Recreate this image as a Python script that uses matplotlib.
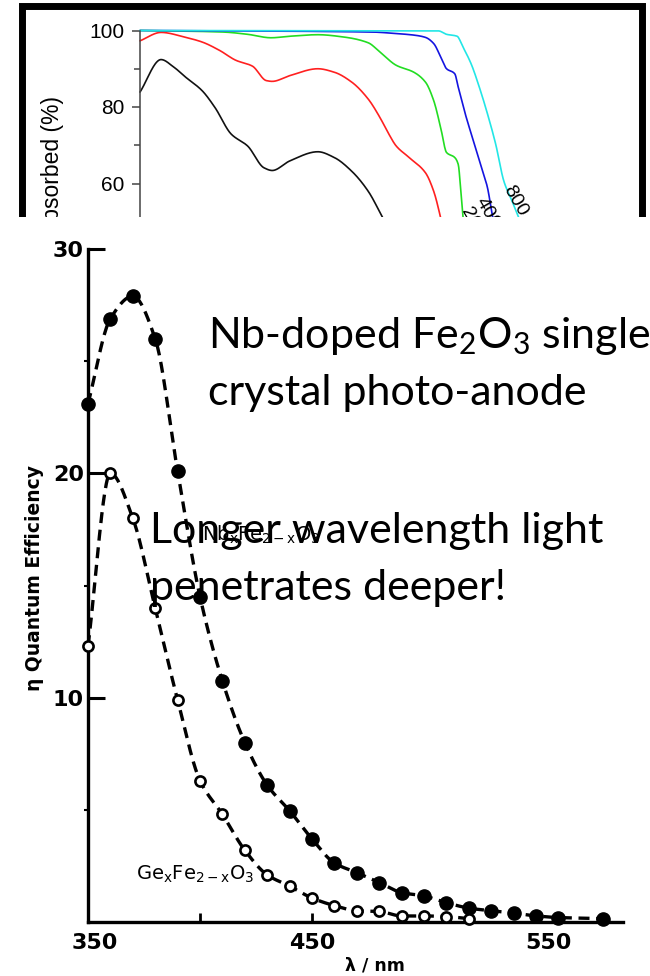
import numpy as np
import matplotlib
matplotlib.use("Agg")
import matplotlib.pyplot as plt
from matplotlib.patches import Rectangle
from matplotlib.transforms import ScaledTranslation

W, H = 650, 976

# ---------------- upper panel: fraction of light absorbed ----------------
black_wl = [300, 318, 329, 339, 353, 364, 378, 392, 406, 413, 428, 452, 466, 481, 495, 509, 520]
black_ab = [83.9, 92.4, 90.4, 87.8, 84.3, 79.9, 72.9, 69.8, 64.1, 63.4, 65.9, 68.3, 66.8, 63.2, 58.0, 50.1, 44.0]

red_wl = [300, 318, 339, 353, 368, 382, 396, 408, 413, 428, 452, 466, 481, 495, 505, 512, 519, 530, 544, 551, 557, 562]
red_ab = [97.3, 99.5, 98.2, 97.0, 94.8, 92.2, 90.7, 86.9, 86.7, 88.2, 90.0, 89.1, 86.5, 82.1, 77.3, 73.3, 69.8, 66.8, 62.8, 58.0, 51.0, 44.0]

green_wl = [300, 371, 392, 412, 428, 452, 474, 495, 505, 519, 534, 544, 551, 557, 562, 569, 572, 574, 576, 578]
green_ab = [100, 99.6, 99.0, 98.1, 98.5, 98.9, 98.3, 96.8, 94.4, 90.9, 89.1, 86.5, 81.7, 74.6, 68.1, 66.8, 65.0, 58.9, 51.8, 44.0]

blue_wl = [300, 498, 519, 534, 544, 551, 557, 562, 569, 572, 578, 585, 592, 597, 601, 605]
blue_ab = [100, 99.6, 99.2, 98.8, 98.2, 96.6, 93.1, 90.0, 88.7, 85.2, 78.2, 71.1, 64.1, 58.9, 51.8, 45.0]

cyan_wl = [300, 555, 562, 571, 576, 583, 590, 597, 604, 611, 618, 625, 632]
cyan_ab = [100, 99.9, 99.0, 98.5, 95.7, 91.3, 85.2, 78.2, 70.3, 60.6, 55.4, 50.0, 45.0]

top_yticks = [60, 80, 100]
top_yminor = [70, 90]
thickness_labels = ["800", "400", "200"]
thickness_pos = [(620.5, 55.4), (597.4, 52.3), (585.0, 49.6)]

# ---------------- lower panel: quantum efficiency ----------------
nb_wl = [350, 360, 370, 380, 390, 400, 410, 420, 430, 440, 450, 460, 470, 480,
         490, 500, 510, 520, 530, 540, 550, 560, 580]
nb_eta = [23.1, 26.9, 27.9, 26.0, 20.1, 14.5, 10.75, 8.0, 6.1, 4.96, 3.7, 2.63, 2.2, 1.76,
          1.31, 1.16, 0.86, 0.62, 0.5, 0.4, 0.27, 0.2, 0.15]

ge_wl = [350, 360, 370, 380, 390, 400, 410, 420, 430, 440, 450, 460, 470, 480, 490, 500, 510, 520]
ge_eta = [12.3, 20.0, 18.0, 14.0, 9.9, 6.3, 4.8, 3.2, 2.1, 1.6, 1.07, 0.73, 0.5, 0.47, 0.27, 0.27, 0.24, 0.15]

qe_xticks = [350, 450, 550]
qe_xminor = [400, 500]
qe_yticks = [10, 20, 30]
qe_yminor = [5, 15, 25]


def pchip(x, y, xs):
    """Monotone cubic (Fritsch-Carlson) curve through the given points."""
    x = np.asarray(x, float)
    y = np.asarray(y, float)
    h = np.diff(x)
    d = np.diff(y) / h
    m = np.zeros_like(y)
    for k in range(1, len(x) - 1):
        if d[k - 1] * d[k] > 0:
            w1 = 2 * h[k] + h[k - 1]
            w2 = h[k] + 2 * h[k - 1]
            m[k] = (w1 + w2) / (w1 / d[k - 1] + w2 / d[k])
    m[0] = d[0]
    m[-1] = d[-1]
    idx = np.clip(np.searchsorted(x, xs) - 1, 0, len(h) - 1)
    t = (xs - x[idx]) / h[idx]
    h00 = 2 * t**3 - 3 * t**2 + 1
    h10 = t**3 - 2 * t**2 + t
    h01 = -2 * t**3 + 3 * t**2
    h11 = t**3 - t**2
    return h00 * y[idx] + h10 * h[idx] * m[idx] + h01 * y[idx + 1] + h11 * h[idx] * m[idx + 1]


def px_box(left, top, right, bottom):
    return [left / W, 1 - bottom / H, (right - left) / W, (bottom - top) / H]


fig = plt.figure(figsize=(W / 100, H / 100), dpi=100)

# ---- upper panel ----
ax1 = fig.add_axes(px_box(140, 30.5, 608, 260), zorder=0)
ax1.set_xlim(300, 700)
ax1.set_ylim(40, 100)
for wl, ab, col in [(black_wl, black_ab, "#111111"), (red_wl, red_ab, "#ff2020"),
                    (green_wl, green_ab, "#22dd22"), (blue_wl, blue_ab, "#1414e0"),
                    (cyan_wl, cyan_ab, "#22e6e6")]:
    xs = np.linspace(wl[0], wl[-1], 600)
    ax1.plot(xs, pchip(wl, ab, xs), color=col, lw=1.2, clip_on=False, solid_capstyle="round")
for s, (xl, yl) in zip(thickness_labels, thickness_pos):
    ax1.text(xl, yl, s, rotation=-60, ha="center", va="center", fontsize=14,
             family="Liberation Sans", rotation_mode="anchor", clip_on=False)
for sp in ["top", "right", "bottom"]:
    ax1.spines[sp].set_visible(False)
ax1.spines["left"].set_color("#444444")
ax1.spines["left"].set_linewidth(1.1)
ax1.set_yticks(top_yticks)
ax1.set_yticks(top_yminor, minor=True)
ax1.set_xticks([])
ax1.tick_params(axis="y", which="major", direction="out", length=6, width=1.1, color="#444444",
                pad=5, labelsize=15)
ax1.tick_params(axis="y", which="minor", direction="out", length=4, width=1.1, color="#444444")
for lab in ax1.get_yticklabels():
    lab.set_family("Liberation Sans")
fig.text(53 / W, 1 - 96 / H, "Absorbed (%)", rotation=90, ha="center", va="top",
         fontsize=16.5, family="Liberation Sans", zorder=0.5)

# black border around the upper panel
fig.add_artist(Rectangle((22 / W, 1 - 420 / H), (641.5 - 22) / W, (420 - 5.5) / H, fill=False,
                         ec="black", lw=5, joinstyle="miter", transform=fig.transFigure, zorder=1))

# white backing of the lower panel
fig.add_artist(Rectangle((0, 0), 1, 1 - 217 / H, fc="white", ec="none",
                         transform=fig.transFigure, zorder=2))

# ---- lower panel ----
ax2 = fig.add_axes(px_box(88, 249, 623, 922), zorder=3)
ax2.set_facecolor("none")
ax2.set_xlim(350, 350 + 535 / 2.24)
ax2.set_ylim(0, 30)
dash = dict(color="black", lw=2.4, dashes=(3.3, 2.0), dash_capstyle="butt")
xs = np.linspace(nb_wl[0], nb_wl[-1], 500)
ax2.plot(xs, pchip(nb_wl, nb_eta, xs), **dash, zorder=2, clip_on=False)
xs = np.linspace(ge_wl[0], ge_wl[-1], 500)
ax2.plot(xs, pchip(ge_wl, ge_eta, xs), **dash, zorder=2, clip_on=False)
ax2.plot(nb_wl, nb_eta, "o", ms=9.5, mfc="black", mec="black", ls="none", zorder=4, clip_on=False)
ax2.plot(ge_wl, ge_eta, "o", ms=7.3, mfc="white", mec="black", mew=1.9, ls="none", zorder=4, clip_on=False)

for sp in ["top", "right"]:
    ax2.spines[sp].set_visible(False)
for sp in ["left", "bottom"]:
    ax2.spines[sp].set_linewidth(2.4)
ax2.set_xticks(qe_xticks)
ax2.set_xticks(qe_xminor, minor=True)
ax2.set_yticks(qe_yticks)
ax2.set_yticks(qe_yminor, minor=True)
ax2.tick_params(axis="x", which="major", direction="in", length=6.5, width=2, pad=8, labelsize=16)
ax2.tick_params(axis="x", which="minor", direction="in", length=6.5, width=2)
ax2.tick_params(axis="y", which="major", direction="in", length=12, width=2.2, pad=3, labelsize=16)
ax2.tick_params(axis="y", which="minor", direction="out", length=3, width=1.5)
for lab in ax2.get_xticklabels() + ax2.get_yticklabels():
    lab.set_family("DejaVu Sans")
    lab.set_weight("bold")
# hand-lettered wavelength labels sit a little right of their ticks
for lab, nudge in zip(ax2.get_xticklabels(), [7, 0, 12]):
    lab.set_transform(lab.get_transform() + ScaledTranslation(nudge / 100, 0, fig.dpi_scale_trans))

fig.text(35 / W, 1 - 578 / H, "η Quantum Efficiency", rotation=90, ha="center", va="center",
         fontsize=13.5, weight="bold", family="DejaVu Sans", zorder=4)
fig.text(375 / W, 1 - 966 / H, "λ / nm", ha="center", va="center",
         fontsize=12.5, weight="bold", family="DejaVu Sans", zorder=4)

narrow = ["Liberation Sans Narrow", "DejaVu Sans"]
ax2.text(371.4, 1.87, r"Ge$_\mathregular{x}$Fe$_\mathregular{2-x}$O$_\mathregular{3}$",
         family=narrow, fontsize=14, ha="left", va="baseline", zorder=5)
ax2.text(400.9, 17.0, r"Nb$_\mathregular{x}$Fe$_\mathregular{2-x}$O$_\mathregular{3}$",
         family=narrow, fontsize=14, ha="left", va="baseline", zorder=5)

# ---- captions ----
captions = [
    (208, 348, r"Nb-doped Fe$_\mathregular{2}$O$_\mathregular{3}$ single", 434),
    (208, 405, "crystal photo-anode", 369),
    (150, 543, "Longer wavelength light", 460),
    (150, 600, "penetrates deeper!", 368),
]
renderer = fig.canvas.get_renderer()
texts, sizes = [], []
for x0, base, s, width in captions:
    t = fig.text(x0 / W, 1 - base / H, s, family="Lato", fontsize=28, ha="left",
                 va="baseline", zorder=6)
    w = t.get_window_extent(renderer).width
    texts.append(t)
    sizes.append(28 * width / w)
size = float(np.mean(sizes))
for t in texts:
    t.set_fontsize(size)

fig.savefig("out.png", dpi=100)
